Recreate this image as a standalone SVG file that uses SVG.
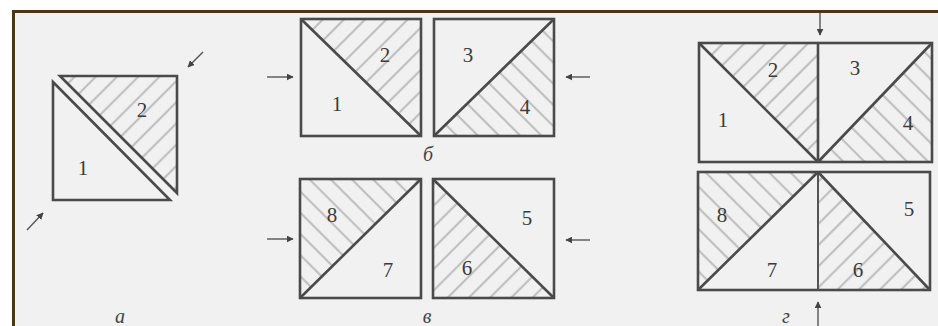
<svg xmlns="http://www.w3.org/2000/svg" width="938" height="326" viewBox="0 0 938 326">
<style>
.edge{fill:none;stroke:#4a4a4a;stroke-width:2.6;stroke-linejoin:miter}
.thin{fill:none;stroke:#555;stroke-width:2}
.hs{fill:url(#hs);stroke:none}
.hb{fill:url(#hb);stroke:none}
.num{font-family:"Liberation Serif",serif;font-size:21px;fill:#3c3c3c;text-anchor:middle}
.cap{font-family:"Liberation Serif",serif;font-style:italic;font-size:20px;fill:#444;text-anchor:middle}
.arr{fill:none;stroke:#555;stroke-width:1.4;marker-end:url(#ah)}
</style>
<defs>
<pattern id="hs" patternUnits="userSpaceOnUse" width="15" height="15" patternTransform="rotate(45)">
<line x1="2" y1="0" x2="2" y2="15" stroke="#c0c0c0" stroke-width="2.2"/>
</pattern>
<pattern id="hb" patternUnits="userSpaceOnUse" width="15" height="15" patternTransform="rotate(-45)">
<line x1="2" y1="0" x2="2" y2="15" stroke="#c0c0c0" stroke-width="2.2"/>
</pattern>
<marker id="ah" viewBox="0 0 10 10" refX="9" refY="5" markerWidth="5" markerHeight="5" orient="auto" markerUnits="strokeWidth">
<path d="M0,0 L10,5 L0,10 z" fill="#444"/>
</marker>
</defs>
<rect x="0" y="0" width="938" height="326" fill="#ffffff"/>
<rect x="13" y="11" width="925" height="315" fill="#f1f1f1"/>
<path d="M13.5,326 V11.5 H938" fill="none" stroke="#4b3418" stroke-width="3"/>

<g id="panel-a">
<polygon class="hs" points="60,76 177,76 177,193"/>
<polygon class="edge" points="53,82 53,200 170,200"/>
<polygon class="edge" points="60,76 177,76 177,193"/>
<text class="num" x="83" y="175">1</text>
<text class="num" x="142" y="117">2</text>
<text class="cap" x="120" y="323">а</text>
</g>

<g id="panel-b-left">
<polygon class="hs" points="301,19 421,19 421,136"/>
<rect class="edge" x="301" y="19" width="120" height="117"/>
<line class="edge" x1="301" y1="19" x2="421" y2="136"/>
<text class="num" x="337" y="111">1</text>
<text class="num" x="385" y="62">2</text>
</g>
<g id="panel-b-right">
<polygon class="hb" points="434,136 554,19 554,136"/>
<rect class="edge" x="434" y="19" width="120" height="117"/>
<line class="edge" x1="434" y1="136" x2="554" y2="19"/>
<text class="num" x="468" y="62">3</text>
<text class="num" x="525" y="114">4</text>
<text class="cap" x="428" y="161">б</text>
</g>

<g id="panel-v-left">
<polygon class="hb" points="300,179 421,179 300,298"/>
<rect class="edge" x="300" y="179" width="121" height="119"/>
<line class="edge" x1="300" y1="298" x2="421" y2="179"/>
<text class="num" x="332" y="222">8</text>
<text class="num" x="388" y="277">7</text>
</g>
<g id="panel-v-right">
<polygon class="hs" points="433,179 554,298 433,298"/>
<rect class="edge" x="433" y="179" width="121" height="119"/>
<line class="edge" x1="433" y1="179" x2="554" y2="298"/>
<text class="num" x="527" y="225">5</text>
<text class="num" x="467" y="275">6</text>
<text class="cap" x="427" y="323">в</text>
</g>

<g id="panel-g-top">
<polygon class="hs" points="699,43 818,43 818,162"/>
<polygon class="hb" points="818,162 932,43 932,162"/>
<rect class="edge" x="699" y="43" width="233" height="119"/>
<line class="edge" x1="818" y1="43" x2="818" y2="162"/>
<line class="edge" x1="699" y1="43" x2="818" y2="162"/>
<line class="edge" x1="818" y1="162" x2="932" y2="43"/>
<text class="num" x="723" y="127">1</text>
<text class="num" x="773" y="77">2</text>
<text class="num" x="855" y="75">3</text>
<text class="num" x="908" y="130">4</text>
</g>
<g id="panel-g-bottom">
<polygon class="hb" points="698,172 818,172 698,290"/>
<polygon class="hs" points="818,172 930,290 818,290"/>
<rect class="edge" x="698" y="172" width="232" height="118"/>
<line class="thin" x1="818" y1="172" x2="818" y2="290"/>
<line class="edge" x1="698" y1="290" x2="818" y2="172"/>
<line class="edge" x1="818" y1="172" x2="930" y2="290"/>
<text class="num" x="722" y="222">8</text>
<text class="num" x="772" y="277">7</text>
<text class="num" x="858" y="277">6</text>
<text class="num" x="909" y="216">5</text>
<text class="cap" x="786" y="323">г</text>
</g>

<g id="connectors">
<line class="arr" x1="203" y1="52" x2="188" y2="67"/>
<line class="arr" x1="27" y1="230" x2="43" y2="213"/>
<line class="arr" x1="267" y1="77" x2="293" y2="77"/>
<line class="arr" x1="590" y1="77" x2="566" y2="77"/>
<line class="arr" x1="267" y1="239" x2="293" y2="239"/>
<line class="arr" x1="590" y1="240" x2="566" y2="240"/>
<line class="arr" x1="820" y1="13" x2="820" y2="35"/>
<line class="arr" x1="818" y1="326" x2="818" y2="302"/>
</g>
</svg>
